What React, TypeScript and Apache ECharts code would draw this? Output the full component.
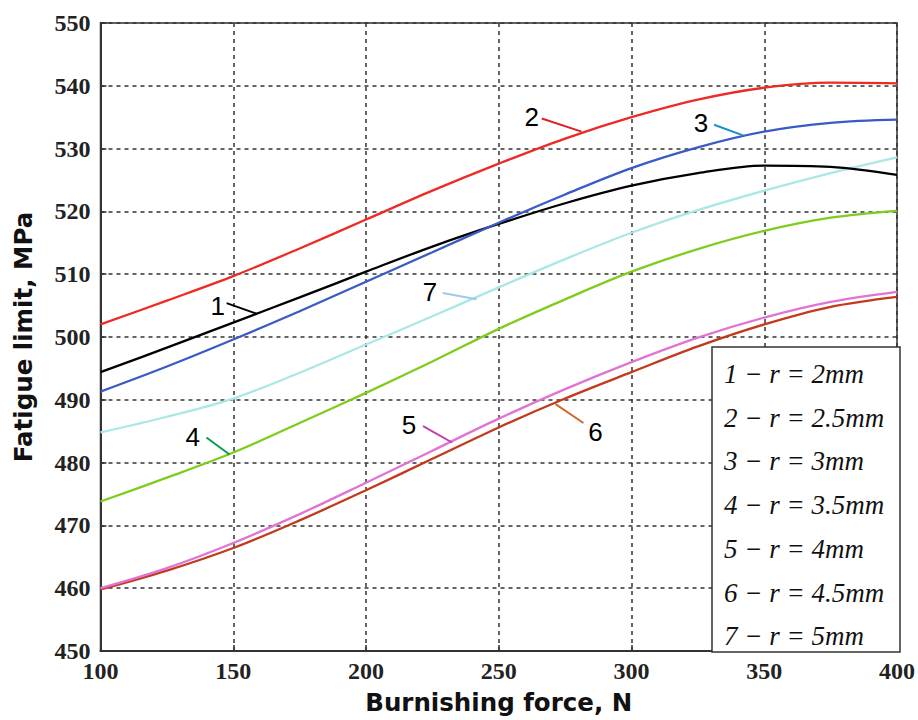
import React, { useEffect, useRef } from "react";
import * as echarts from "echarts";

// Burnishing force, N
const forces = [100, 125, 150, 175, 200, 225, 250, 275, 300, 325, 350, 375, 400];

// Fatigue limit, MPa, for each ball radius
const curve1 = [494.4, 498.3, 502.3, 506.3, 510.4, 514.4, 518.0, 521.3, 524.1, 526.1, 527.3, 527.1, 525.8];
const curve2 = [502.0, 505.8, 509.7, 514.1, 518.7, 523.3, 527.6, 531.6, 535.0, 537.8, 539.7, 540.5, 540.4];
const curve3 = [491.3, 495.3, 499.6, 504.1, 508.8, 513.5, 518.2, 522.7, 526.9, 530.2, 532.7, 534.1, 534.6];
const curve4 = [473.8, 477.6, 481.6, 486.3, 491.1, 496.1, 501.3, 506.0, 510.4, 514.0, 516.9, 519.0, 520.1];
const curve5 = [460.0, 463.2, 467.2, 471.8, 476.8, 481.9, 487.0, 491.7, 496.0, 499.9, 503.1, 505.6, 507.2];
const curve6 = [459.8, 462.8, 466.4, 470.8, 475.6, 480.6, 485.6, 490.2, 494.4, 498.5, 502.0, 504.8, 506.4];
const curve7 = [484.8, 487.3, 490.2, 494.3, 498.8, 503.3, 507.9, 512.4, 516.6, 520.2, 523.3, 526.1, 528.6];

const curveNames = ["1", "2", "3", "4", "5", "6", "7"];
const legendLabels = [
  "1 − r = 2mm",
  "2 − r = 2.5mm",
  "3 − r = 3mm",
  "4 − r = 3.5mm",
  "5 − r = 4mm",
  "6 − r = 4.5mm",
  "7 − r = 5mm",
];

// Curve number callouts: text anchor, then leader line start and end (data units)
const calloutText = [
  [144.2, 504.9],
  [262.4, 535.1],
  [326.2, 534.0],
  [134.7, 484.0],
  [216.2, 486.0],
  [286.4, 484.8],
  [224.1, 507.1],
];
const calloutFrom = [
  [147.5, 505.4],
  [266.2, 534.8],
  [331.1, 533.8],
  [139.9, 484.0],
  [221.5, 485.8],
  [281.9, 486.3],
  [228.9, 507.0],
];
const calloutTo = [
  [158.8, 503.7],
  [281.2, 532.7],
  [342.0, 532.1],
  [148.6, 481.3],
  [232.4, 483.2],
  [271.4, 489.3],
  [241.7, 506.0],
];

const curveColors = ["#000000", "#ee2a24", "#3a5ac6", "#7fcc1e", "#df74d2", "#c2391c", "#a9e8e6"];
const calloutColors = ["#000000", "#e02020", "#1a90c8", "#0a9a50", "#c23cae", "#d0672c", "#9ccbe8"];

const curves = [curve1, curve2, curve3, curve4, curve5, curve6, curve7];
// drawing order (later drawn on top)
const drawOrder = [6, 3, 5, 4, 0, 2, 1];

export default function App() {
  const ref = useRef<HTMLDivElement>(null);

  useEffect(() => {
    if (!ref.current) return;
    const chart = echarts.init(ref.current, undefined, { renderer: "svg" });

    const gridLine = { show: true, lineStyle: { color: "#333", width: 1.5, type: [4, 4] as number[] } };

    chart.setOption({
      animation: false,
      backgroundColor: "#ffffff",
      grid: {
        left: 100.5,
        right: 18,
        top: 23,
        bottom: 67,
        show: true,
        borderColor: "#333",
        borderWidth: 1.5,
        backgroundColor: "transparent",
      },
      xAxis: {
        type: "value",
        min: 100,
        max: 400,
        interval: 50,
        name: "Burnishing force, N",
        nameLocation: "middle",
        nameGap: 39,
        nameTextStyle: { fontFamily: "DejaVu Sans", fontWeight: "bold", fontSize: 24.5, color: "#111" },
        axisLine: { show: true, lineStyle: { color: "#333", width: 2 } },
        axisTick: { show: true, inside: true, length: 6, lineStyle: { color: "#333", width: 1.5 } },
        axisLabel: {
          fontFamily: "Liberation Serif",
          fontWeight: "bold",
          fontSize: 24,
          color: "#222",
          margin: 8,
        },
        splitLine: gridLine,
      },
      yAxis: {
        type: "value",
        min: 450,
        max: 550,
        interval: 10,
        name: "Fatigue limit, MPa",
        nameLocation: "middle",
        nameGap: 65,
        nameTextStyle: { fontFamily: "DejaVu Sans", fontWeight: "bold", fontSize: 24.5, color: "#111" },
        axisLine: { show: true, lineStyle: { color: "#333", width: 2 } },
        axisTick: { show: true, inside: true, length: 6, lineStyle: { color: "#333", width: 1.5 } },
        axisLabel: {
          fontFamily: "Liberation Serif",
          fontWeight: "bold",
          fontSize: 24,
          color: "#222",
          margin: 10,
        },
        splitLine: gridLine,
      },
      series: drawOrder.map((i) => ({
        type: "line",
        name: curveNames[i],
        data: forces.map((f, k) => [f, curves[i][k]]),
        smooth: 0.35,
        showSymbol: false,
        silent: true,
        lineStyle: { color: curveColors[i], width: 2.3 },
        z: 3,
      })),
    });

    const toPx = (p: number[]) => chart.convertToPixel({ xAxisIndex: 0, yAxisIndex: 0 }, p) as number[];

    const callouts: any[] = [];
    curveNames.forEach((n, i) => {
      const a = toPx(calloutFrom[i]);
      const b = toPx(calloutTo[i]);
      const t = toPx(calloutText[i]);
      callouts.push({
        type: "line",
        shape: { x1: a[0], y1: a[1], x2: b[0], y2: b[1] },
        style: { stroke: calloutColors[i], lineWidth: 2 },
        z: 10,
      });
      callouts.push({
        type: "text",
        x: t[0],
        y: t[1],
        style: {
          text: n,
          fontFamily: "Liberation Sans",
          fontSize: 26,
          fill: "#000",
          align: "center",
          verticalAlign: "middle",
        },
        z: 10,
      });
    });

    // Legend box in the lower right corner of the plot
    const box = { x: 712, y: 347, w: 188, h: 305 };
    const legendItems = legendLabels.map((s, i) => ({
      type: "text",
      x: box.x + 12,
      y: box.y + 27 + i * 43.7,
      style: {
        text: s,
        fontFamily: "Liberation Serif",
        fontStyle: "italic",
        fontSize: 27,
        fill: "#111",
        align: "left",
        verticalAlign: "middle",
      },
      z: 21,
    }));

    chart.setOption({
      graphic: [
        ...callouts,
        {
          type: "rect",
          shape: { x: box.x, y: box.y, width: box.w, height: box.h },
          style: { fill: "#ffffff", stroke: "#333", lineWidth: 1.5 },
          z: 20,
        },
        ...legendItems,
      ],
    });

    return () => chart.dispose();
  }, []);

  return (
    <div
      ref={ref}
      style={{ position: "fixed", left: 0, top: 0, width: 918, height: 720, background: "#fff" }}
    />
  );
}
